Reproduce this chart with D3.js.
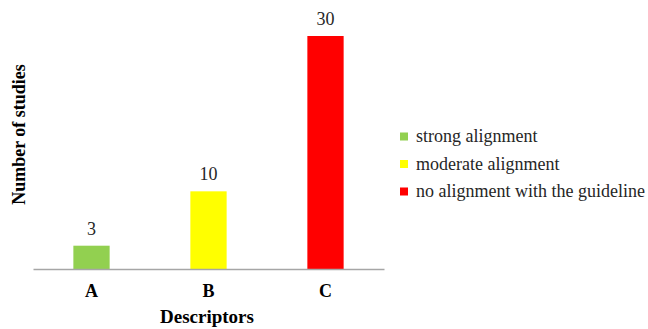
<!DOCTYPE html>
<html><head><meta charset="utf-8">
<script src="https://cdn.jsdelivr.net/npm/d3@7"></script>
<style>body{margin:0;background:#fff}svg{display:block}svg text{font-family:'Liberation Serif','Times New Roman',serif}</style>
</head><body>
<script>
const categories = ["A", "B", "C"];
const values = [3, 10, 30];
const seriesNames = ["strong alignment", "moderate alignment", "no alignment with the guideline"];
const colors = ["#92d050", "#ffff00", "#ff0000"];

const W = 648, H = 329;
const svg = d3.select("body").append("svg").attr("width", W).attr("height", H);
const font = "Liberation Serif";

const x = d3.scaleBand().domain(categories).range([33, 384]).paddingInner(0.69).paddingOuter(0.345);
const y = d3.scaleLinear().domain([0, 30]).range([269, 36]);

svg.selectAll("rect.bar").data(values).enter().append("rect")
  .attr("class", "bar")
  .attr("x", (d, i) => x(categories[i]))
  .attr("width", x.bandwidth())
  .attr("y", d => y(d))
  .attr("height", d => y(0) - y(d))
  .attr("fill", (d, i) => colors[i]);

svg.selectAll("text.val").data(values).enter().append("text")
  .attr("class", "val")
  .attr("x", (d, i) => x(categories[i]) + x.bandwidth() / 2)
  .attr("y", d => y(d) - 11)
  .attr("text-anchor", "middle")
  .style("font-family", font).style("font-size", "18px").attr("fill", "#262626")
  .text(d => d);

const ax = svg.append("g").attr("transform", `translate(0,${y(0)})`)
  .call(d3.axisBottom(x).tickSize(0).tickPadding(0));
ax.attr("font-family", null);
ax.select(".domain").attr("stroke", "#a6a6a6").attr("stroke-width", 1.5);
ax.selectAll("text").style("font-family", font).style("font-size", "18px").style("font-weight", "bold")
  .attr("fill", "#000").attr("dy", null).attr("y", 28);

svg.append("text").attr("x", 207).attr("y", 323).attr("text-anchor", "middle")
  .style("font-family", font).style("font-size", "19px").style("font-weight", "bold").text("Descriptors");

svg.append("text").attr("transform", "translate(25,134.5) rotate(-90)").attr("text-anchor", "middle")
  .style("font-family", font).style("font-size", "18px").style("font-weight", "bold").text("Number of studies");

const leg = svg.append("g");
seriesNames.forEach((s, i) => {
  const cy = 136.5 + i * 27.5;
  leg.append("rect").attr("x", 400).attr("y", cy - 4).attr("width", 8).attr("height", 8).attr("fill", colors[i]);
  leg.append("text").attr("x", 416).attr("y", cy + 5.5)
    .style("font-family", font).style("font-size", "18px").attr("fill", "#262626").text(s);
});
</script>
</body></html>
